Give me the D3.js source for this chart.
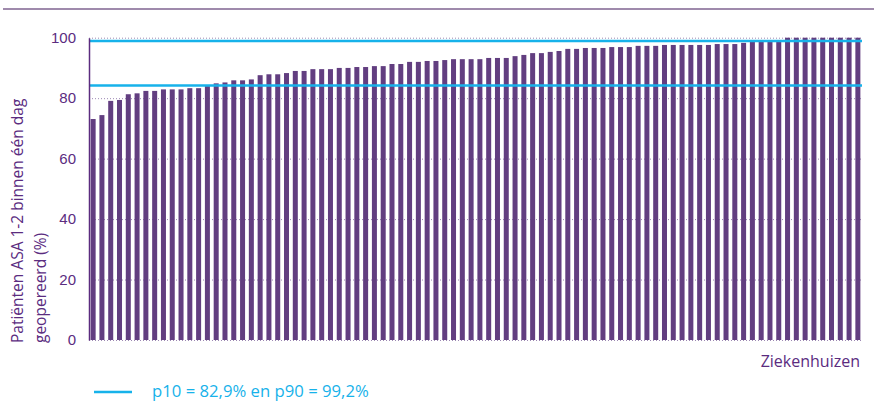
<!DOCTYPE html>
<html>
<head>
<meta charset="utf-8">
<script src="https://cdn.jsdelivr.net/npm/d3@7"></script>
<style>
  body { margin: 0; background: #fff; }
  svg { display: block; font-family: "Open Sans", sans-serif; }
  .axis text { fill: #5b2c7f; font-size: 15px; }
  .grid line { stroke: #9d88b3; stroke-dasharray: 1,2; }
  .bar { fill: #623e80; }
  .pline { stroke: #17b2ea; stroke-width: 2.5; }
</style>
</head>
<body>
<svg width="874" height="402"></svg>
<script>
// one bar per hospital, sorted ascending (% ASA 1-2 operated within one day)
const hospitals = d3.range(1, 89).map(i => "Z" + i);
const scores = [
  73.1, 74.4, 79.1, 79.4, 81.3, 81.6, 82.4, 82.4, 82.9, 82.9,
  82.9, 83.3, 83.3, 84.0, 84.9, 85.2, 85.9, 85.9, 86.2, 87.6,
  87.9, 87.9, 88.3, 89.0, 89.0, 89.6, 89.6, 89.6, 90.0, 90.0,
  90.3, 90.3, 90.6, 90.6, 91.3, 91.3, 92.0, 92.0, 92.3, 92.3,
  92.6, 92.9, 92.9, 92.9, 92.9, 93.3, 93.3, 93.3, 93.9, 94.3,
  94.9, 94.9, 95.3, 95.6, 96.3, 96.3, 96.6, 96.6, 96.6, 96.9,
  96.9, 96.9, 97.3, 97.3, 97.3, 97.6, 97.6, 97.6, 97.6, 97.6,
  97.6, 97.9, 97.9, 97.9, 98.3, 98.6, 98.8, 98.9, 99.2, 100,
  100, 100, 100, 100, 100, 100, 100, 100
];
// p10 / p90 reference lines, at the height they are drawn in the picture
const refLines = [84.2, 98.9];
const yTicks   = [0, 20, 40, 60, 80, 100];
const yLabel   = ["Patiënten ASA 1-2 binnen één dag", "geopereerd (%)"];
const xLabel   = "Ziekenhuizen";
const legendText = "p10 = 82,9% en p90 = 99,2%";

drawChart();

function drawChart() {
  let svg   = d3.select("svg"),
      left  = 89,
      right = 862,
      x     = d3.scaleBand()
                .domain(hospitals)
                .range([left, right])
                .paddingInner(0.43)
                .paddingOuter(0.185),
      y     = d3.scaleLinear()
                .domain([0, 100])
                .range([340, 37.7]);

  // top rule
  svg.append("line")
    .attr("x1", 3).attr("x2", 874)
    .attr("y1", 9).attr("y2", 9)
    .attr("stroke", "#7f6390")
    .attr("stroke-width", 1.5);

  svg.append("g")
    .attr("class", "grid")
    .attr("transform", `translate(${left},0)`)
    .call(d3.axisLeft(y).tickValues(yTicks).tickSize(-(right - left)).tickFormat(""))
    .call(g => g.select(".domain").remove());

  svg.selectAll(".bar")
    .data(scores)
    .enter().append("rect")
      .attr("class", "bar")
      .attr("x", (d, i) => x(hospitals[i]))
      .attr("y", d => y(d))
      .attr("width", x.bandwidth())
      .attr("height", d => y(0) - y(d));

  svg.selectAll(".pline")
    .data(refLines)
    .enter().append("line")
      .attr("class", "pline")
      .attr("x1", left)
      .attr("x2", right)
      .attr("y1", d => y(d))
      .attr("y2", d => y(d));

  let yAxis = svg.append("g")
    .attr("class", "axis")
    .attr("transform", `translate(${left},0)`)
    .call(d3.axisLeft(y).tickValues(yTicks).tickSize(0).tickPadding(13));
  yAxis.select(".domain")
    .attr("stroke", "#5b2c7f")
    .attr("stroke-width", 1.5);

  svg.append("text")
    .attr("x", 860)
    .attr("y", 367)
    .attr("text-anchor", "end")
    .attr("fill", "#5b2c7f")
    .attr("font-size", 16)
    .text(xLabel);

  svg.selectAll(".ylabel")
    .data(yLabel)
    .enter().append("text")
      .attr("class", "ylabel")
      .attr("transform", (d, i) => `translate(${23 + i * 23},343) rotate(-90)`)
      .attr("fill", "#5b2c7f")
      .attr("font-size", 15.5)
      .text(d => d);

  // legend
  svg.append("line")
    .attr("class", "pline")
    .attr("x1", 94).attr("x2", 132)
    .attr("y1", 392).attr("y2", 392);

  svg.append("text")
    .attr("x", 152)
    .attr("y", 397)
    .attr("fill", "#17b2ea")
    .attr("font-size", 16.7)
    .text(legendText);
}
</script>
</body>
</html>
